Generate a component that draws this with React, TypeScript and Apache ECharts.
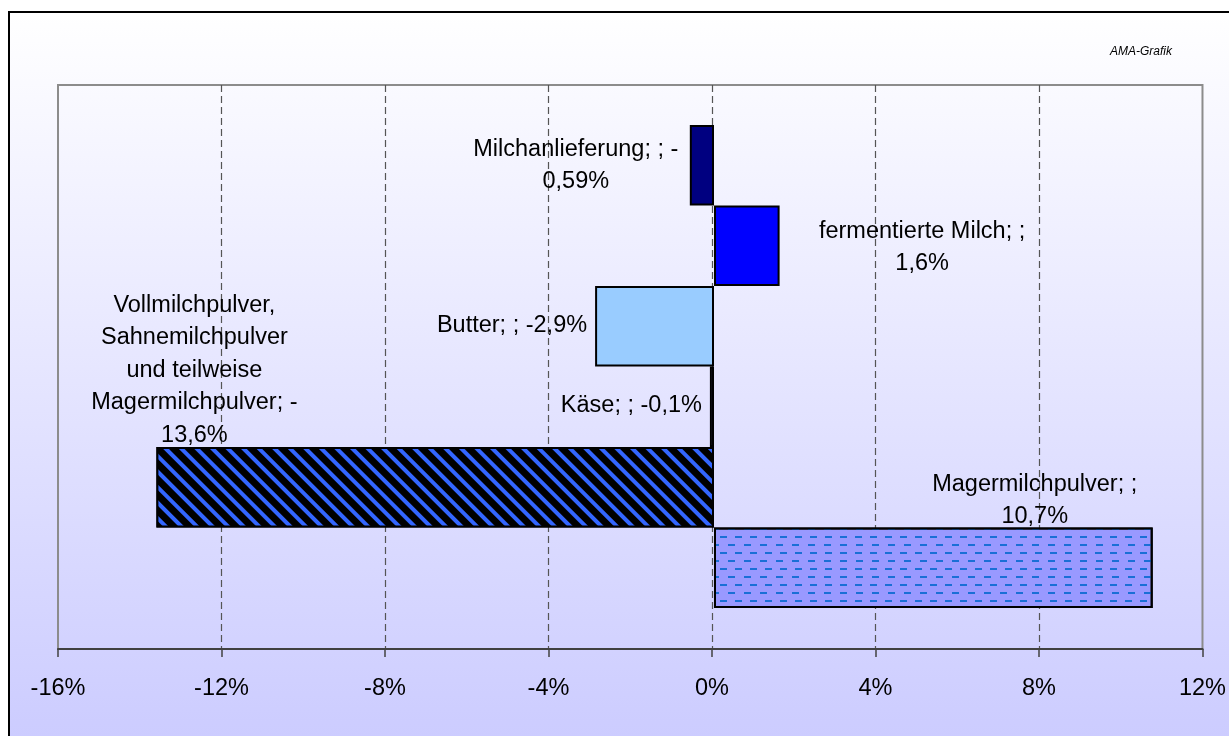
import React, { useEffect, useRef } from "react";
import * as echarts from "echarts";

const categories = [
  "Milchanlieferung",
  "fermentierte Milch",
  "Butter",
  "Käse",
  "Vollmilchpulver, Sahnemilchpulver und teilweise Magermilchpulver",
  "Magermilchpulver",
];
const values = [-0.59, 1.6, -2.9, -0.1, -13.6, 10.7];
const labelTexts = [
  "Milchanlieferung; ; -\n0,59%",
  "fermentierte Milch; ;\n1,6%",
  "Butter; ; -2,9%",
  "Käse; ; -0,1%",
  "Vollmilchpulver,\nSahnemilchpulver\nund teilweise\nMagermilchpulver; -\n13,6%",
  "Magermilchpulver; ;\n10,7%",
];
const xTicks = [-16, -12, -8, -4, 0, 4, 8, 12];
const credit = "AMA-Grafik";

const FONT = "'Liberation Sans', Arial, sans-serif";
const FS = 23.5;

export default function App() {
  const ref = useRef<HTMLDivElement>(null);
  useEffect(() => {
    document.body.style.margin = "0";
    const chart = echarts.init(ref.current!, null, { renderer: "svg" });

    const itemStyles: any[] = [
      { color: "#000080" },
      { color: "#0000ff" },
      { color: "#99ccff" },
      { color: "#666699" },
      {
        color: "#000000",
        decal: {
          symbol: "rect",
          symbolSize: 1,
          color: "#3366ff",
          dashArrayX: [1, 0],
          dashArrayY: [4, 6.6],
          rotation: Math.PI / 4,
        },
      },
      {
        color: "#9999ff",
        decal: {
          symbol: "rect",
          symbolSize: 1,
          color: "#1a6fd6",
          dashArrayX: [
            [7, 8],
            [0, 7.5, 7, 0.5],
          ],
          dashArrayY: [2, 6],
          rotation: 0,
        },
      },
    ];

    const labelCfg: any[] = [
      { position: "left", distance: 0, align: "center", offset: [-114, -1.5] },
      { position: "right", distance: 0, align: "center", offset: [142.5, 0] },
      { position: "left", distance: 8, align: "right", offset: [0, -2] },
      { position: "left", distance: 8, align: "right", offset: [0, -3] },
      { position: "left", distance: 0, align: "center", offset: [38, -118.5] },
      { position: "right", distance: 0, align: "center", offset: [-118, -69] },
    ];

    const data = values.map((v, i) => ({
      value: v,
      name: categories[i],
      itemStyle: { ...itemStyles[i], borderColor: "#000", borderWidth: 2 },
      label: {
        show: true,
        formatter: labelTexts[i],
        fontSize: FS,
        lineHeight: 32.5,
        fontFamily: FONT,
        color: "#000",
        verticalAlign: "middle",
        ...labelCfg[i],
      },
    }));

    chart.setOption({
      animation: false,
      graphic: [
        {
          type: "rect",
          z: -100,
          shape: { x: 9, y: 12, width: 1240, height: 740 },
          style: {
            fill: new echarts.graphic.LinearGradient(0, 0, 0, 1, [
              { offset: 0, color: "#ffffff" },
              { offset: 0.98, color: "#ccccff" },
              { offset: 1, color: "#ccccff" },
            ]),
            stroke: "#000",
            lineWidth: 2,
          },
        },
        {
          type: "text",
          z: 10,
          x: 1141,
          y: 51,
          style: {
            text: credit,
            fontSize: 12,
            fontStyle: "italic",
            fontFamily: FONT,
            fill: "#000",
            align: "center",
            verticalAlign: "middle",
          },
        },
      ],
      grid: [
        {
          left: 58,
          top: 85,
          width: 1148,
          height: 564,
          show: true,
          backgroundColor: "transparent",
          borderColor: "#8c8c8c",
          borderWidth: 2,
        },
        { left: 58, top: 125, width: 1148, height: 483 },
      ],
      xAxis: [
        {
          gridIndex: 0,
          type: "value",
          min: xTicks[0],
          max: xTicks[xTicks.length - 1],
          interval: 4,
          axisLine: { show: true, lineStyle: { color: "#404040", width: 2 } },
          axisTick: { show: true, length: 8, lineStyle: { color: "#404040", width: 1.5 } },
          axisLabel: {
            formatter: (v: number) => v + "%",
            fontSize: FS,
            fontFamily: FONT,
            color: "#000",
            margin: 26,
          },
          splitLine: {
            show: true,
            showMinLine: false,
            showMaxLine: false,
            lineStyle: { color: "#555", type: [7, 4], width: 1.2 },
          },
        },
        {
          gridIndex: 1,
          type: "value",
          min: xTicks[0],
          max: xTicks[xTicks.length - 1],
          show: false,
        },
      ],
      yAxis: [
        {
          gridIndex: 0,
          type: "category",
          data: [""],
          axisLine: { show: false },
          axisTick: { show: false },
          axisLabel: { show: false },
        },
        {
          gridIndex: 1,
          type: "category",
          data: categories,
          inverse: true,
          show: false,
        },
      ],
      series: [
        {
          type: "bar",
          xAxisIndex: 1,
          yAxisIndex: 1,
          barCategoryGap: "0%",
          data,
        },
      ],
    });
    return () => chart.dispose();
  }, []);
  return (
    <div
      ref={ref}
      style={{ position: "fixed", left: 0, top: 0, width: 1229, height: 736 }}
    />
  );
}
